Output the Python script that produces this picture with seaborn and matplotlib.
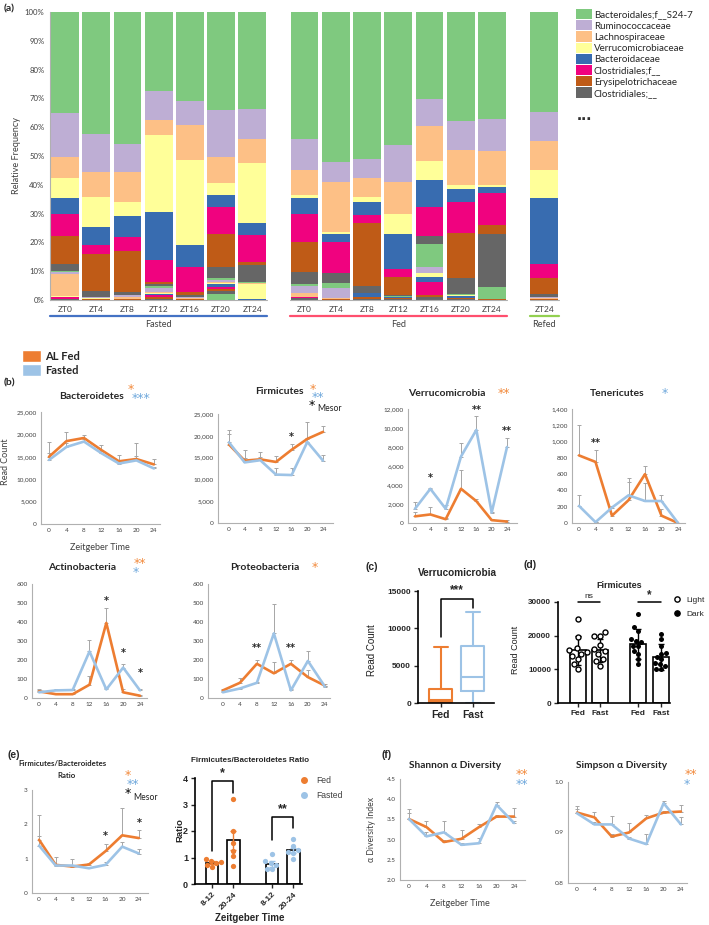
import warnings
warnings.filterwarnings("ignore")
import numpy as np
import pandas as pd
import matplotlib
matplotlib.use("Agg")
import matplotlib.pyplot as plt
import seaborn as sns
from matplotlib.patches import Patch
from matplotlib.lines import Line2D
from matplotlib.ticker import FuncFormatter

# ---------------- (a) relative frequency, % per sample ----------------
sample_labels = ["ZT0", "ZT4", "ZT8", "ZT12", "ZT16", "ZT20", "ZT24",
                 "ZT0", "ZT4", "ZT8", "ZT12", "ZT16", "ZT20", "ZT24", "ZT24"]
sample_groups = ["Fasted"] * 7 + ["Fed"] * 7 + ["Refed"]
taxa_names = ["Bacteroidales;f__S24-7", "Ruminococcaceae", "Lachnospiraceae",
              "Verrucomicrobiaceae", "Bacteroidaceae", "Clostridiales;f__",
              "Erysipelotrichaceae", "Clostridiales;__"]
#            fasted ZT0..ZT24                          fed ZT0..ZT24                             refed
s24_7   = [35.0, 42.5, 45.7, 27.4, 31.0, 33.9, 33.6, 44.1, 52.2, 51.1, 46.1, 30.3, 38.0, 37.0, 34.6]
rumino  = [15.3, 13.2, 9.7, 10.1, 8.3, 16.4, 10.4, 10.7, 7.0, 6.4, 12.9, 9.2, 10.0, 11.2, 10.1]
lachno  = [7.2, 8.7, 10.5, 5.3, 12.2, 9.1, 8.5, 8.9, 17.2, 6.9, 11.3, 12.2, 12.2, 12.0, 10.0]
verruco = [7.1, 10.3, 5.1, 26.5, 29.3, 4.2, 20.8, 0.9, 0.6, 1.6, 6.7, 6.8, 1.2, 0.5, 9.8]
bactero = [5.5, 6.1, 7.2, 16.9, 7.7, 4.0, 4.3, 5.4, 2.9, 4.6, 12.1, 9.1, 4.5, 2.1, 23.0]
clos_f  = [7.8, 3.3, 4.9, 7.5, 8.6, 9.6, 9.2, 9.8, 10.7, 2.6, 2.9, 10.3, 11.0, 11.3, 5.0]
erysip  = [9.5, 12.8, 14.1, 0.8, 1.2, 11.3, 1.1, 10.6, 0.0, 22.1, 6.2, 0.0, 15.5, 2.9, 5.4]
clos_   = [2.6, 2.0, 1.1, 0.6, 0.6, 4.0, 6.0, 4.0, 3.4, 2.1, 0.5, 2.5, 5.5, 18.6, 1.2]
# less abundant taxa (colour cycle repeats)
other_1 = [0.4, 0.1, 0.1, 0.6, 0.1, 0.5, 0.2, 0.8, 2.0, 0.0, 0.1, 8.3, 0.4, 4.1, 0.0]
other_2 = [0.6, 0.2, 0.6, 1.5, 0.3, 0.8, 0.1, 2.2, 3.2, 0.0, 0.1, 1.8, 0.1, 0.0, 0.1]
other_3 = [7.6, 0.2, 0.5, 0.4, 0.2, 0.3, 0.1, 1.4, 0.3, 0.0, 0.2, 0.0, 0.0, 0.0, 0.3]
other_4 = [0.3, 0.1, 0.1, 0.3, 0.1, 0.5, 5.3, 0.1, 0.3, 0.0, 0.0, 1.5, 0.1, 0.0, 0.0]
other_5 = [0.1, 0.1, 0.1, 0.5, 0.1, 0.9, 0.3, 0.1, 0.0, 1.6, 0.3, 1.9, 0.7, 0.0, 0.0]
other_6 = [0.5, 0.1, 0.1, 0.6, 0.1, 0.7, 0.0, 0.2, 0.0, 0.0, 0.0, 4.4, 0.1, 0.0, 0.3]
other_7 = [0.3, 0.2, 0.1, 0.6, 0.1, 0.8, 0.0, 0.2, 0.2, 0.6, 0.4, 0.6, 0.4, 0.2, 0.1]
other_8 = [0.2, 0.1, 0.1, 0.4, 0.1, 0.8, 0.1, 0.6, 0.0, 0.4, 0.2, 1.1, 0.3, 0.1, 0.1]
other_9 = [0.0, 0.0, 0.0, 0.0, 0.0, 2.2, 0.0, 0.0, 0.0, 0.0, 0.0, 0.0, 0.0, 0.0, 0.0]

# ---------------- (b), (e), (f) time courses ----------------
zt = [0, 4, 8, 12, 16, 20, 24]
bact_fed = [15000, 18500, 19200, 16500, 14000, 14500, 13300]
bact_fast = [14300, 17200, 18400, 15800, 13500, 14200, 12400]
bact_fed_err = [3300, 2000, 600, 1200, 1500, 3600, 1200]
bact_fast_err = [1500, 800, 500, 600, 700, 900, 400]

firm_fed = [18000, 14300, 14600, 14000, 16800, 19300, 20900]
firm_fast = [18500, 13900, 14400, 11100, 11000, 18600, 14300]
firm_fed_err = [3300, 2500, 1700, 1300, 1300, 3900, 1400]
firm_fast_err = [1900, 900, 800, 1500, 1600, 1000, 1200]

verr_fed = [700, 900, 400, 3600, 2300, 300, 150]
verr_fast = [1500, 3600, 1500, 7000, 9800, 1100, 8000]
verr_fed_err = [500, 800, 100, 2000, 200, 100, 150]
verr_fast_err = [700, 100, 400, 1400, 1500, 100, 1000]

ten_fed = [830, 750, 90, 280, 600, 90, 0]
ten_fast = [210, 10, 190, 340, 270, 270, 0]
ten_fed_err = [370, 150, 20, 220, 100, 80, 0]
ten_fast_err = [130, 0, 20, 210, 220, 70, 0]

act_fed = [35, 20, 20, 70, 395, 30, 12]
act_fast = [30, 40, 42, 245, 45, 160, 40]
act_fed_err = [10, 5, 5, 45, 80, 20, 5]
act_fast_err = [12, 10, 5, 60, 10, 20, 5]

prot_fed = [40, 80, 180, 130, 180, 110, 65]
prot_fast = [30, 50, 80, 340, 40, 195, 60]
prot_fed_err = [10, 25, 20, 60, 20, 35, 10]
prot_fast_err = [5, 5, 5, 155, 5, 55, 5]

fb_fed = [1.55, 0.82, 0.77, 0.83, 1.22, 1.68, 1.60]
fb_fast = [1.38, 0.80, 0.80, 0.72, 0.82, 1.35, 1.15]
fb_fed_err = [0.10, 0.23, 0.05, 0.03, 0.20, 0.80, 0.23]
fb_fast_err = [0.90, 0.05, 0.18, 0.05, 0.08, 0.15, 0.12]

sh_fed = [3.51, 3.31, 2.94, 3.02, 3.31, 3.57, 3.57]
sh_fast = [3.51, 3.08, 3.18, 2.87, 2.91, 3.86, 3.41]
sh_fed_err = [0.24, 0.16, 0.05, 0.21, 0.07, 0.05, 0.21]
sh_fast_err = [0.15, 0.10, 0.29, 0.05, 0.12, 0.08, 0.05]

si_fed = [0.9395, 0.930, 0.892, 0.900, 0.928, 0.9395, 0.9415]
si_fast = [0.938, 0.916, 0.916, 0.888, 0.877, 0.958, 0.916]
si_fed_err = [0.0135, 0.011, 0.005, 0.018, 0.007, 0.003, 0.0135]
si_fast_err = [0.008, 0.004, 0.017, 0.003, 0.021, 0.005, 0.014]

# ---------------- (c) Verrucomicrobia box stats ----------------
box_names = ["Fed", "Fast"]
box_whislo = [0, 50]
box_q1 = [200, 1650]
box_med = [450, 3530]
box_q3 = [1900, 7680]
box_whishi = [7550, 12150]

# ---------------- (d) Firmicutes light/dark ----------------
d_labels = ["Fed", "Fast", "Fed", "Fast"]
d_means = [15600, 15600, 17600, 13700]
d_sd = [4400, 3500, 4500, 3900]
firm_light_fed = [25000, 19500, 16200, 15600, 15200, 14700, 14000, 13000, 11500, 10000]
firm_light_fast = [21000, 20000, 19800, 17200, 16000, 15300, 14500, 13000, 12500, 11000]
firm_dark_fed = [26500, 22500, 21500, 19000, 18500, 18000, 17000, 16800, 15500, 14500, 13000, 11500]
firm_dark_fast = [20500, 19000, 17000, 15000, 14500, 13800, 13000, 12000, 11500, 11000, 10200, 10000]

# ---------------- (e) right: ratio bars ----------------
e_labels = ["8-12", "20-24", "8-12", "20-24"]
e_means = [0.80, 1.65, 0.76, 1.27]
e_err = [0.05, 0.36, 0.10, 0.10]
ratio_fed_8_12 = [0.95, 0.88, 0.82, 0.78, 0.72, 0.65]
ratio_fed_20_24 = [3.22, 2.00, 1.55, 1.25, 1.05, 0.68]
ratio_fast_8_12 = [1.15, 0.85, 0.78, 0.70, 0.58, 0.55]
ratio_fast_20_24 = [1.68, 1.45, 1.30, 1.22, 1.18, 0.95]

# ---------------- style ----------------
sns.set_style("white")
plt.rcParams['font.family'] = ['Lato', 'DejaVu Sans']
ARIAL = ['Liberation Sans', 'DejaVu Sans']
ORANGE = '#ed7d31'
LBLUE = '#9dc3e6'
STAR_O = '#f28a3c'
STAR_B = '#6fa8dc'
ERR = '#a6a6a6'
AXC = '#b0b0b0'

W, H = 709, 925
fig = plt.figure(figsize=(W / 100, H / 100), dpi=100)


def add_ax(x0, y0, x1, y1):
    return fig.add_axes([x0 / W, 1 - y1 / H, (x1 - x0) / W, (y1 - y0) / H])


def ftext(x, y, s, **kw):
    kw.setdefault('ha', 'left')
    kw.setdefault('va', 'center')
    fig.text(x / W, 1 - y / H, s, **kw)


def star(x, y, s, color, size=9):
    ftext(x, y + 2.5, s, ha='center', color=color, fontsize=size, family='DejaVu Sans')


# ================= (a) =================
accent = sns.color_palette("Accent", 8)
stack = [s24_7, rumino, lachno, verruco, bactero, clos_f, erysip, clos_,
         other_1, other_2, other_3, other_4, other_5, other_6, other_7, other_8, other_9]
stack_colors = list(accent) * 2 + [accent[0]]
xpos = np.concatenate([np.arange(7), 7.67 + np.arange(7), [15.35]])

ax = add_ax(50, 12, 560, 300)
bottom = np.zeros(len(xpos))
for vals, col in reversed(list(zip(stack, stack_colors))):
    ax.bar(xpos, vals, bottom=bottom, width=0.89, color=col, linewidth=0)
    bottom += np.array(vals)
ax.set_xlim(-0.48, 15.85)
ax.set_ylim(0, 100)
ax.set_yticks(range(0, 101, 10))
ax.yaxis.set_major_formatter(FuncFormatter(lambda v, p: f"{v:.0f}%"))
ax.set_xticks(xpos)
ax.set_xticklabels(sample_labels)
for s in ['top', 'right', 'bottom']:
    ax.spines[s].set_visible(False)
ax.spines['left'].set_color(AXC)
ax.spines['left'].set_linewidth(0.8)
ax.tick_params(axis='y', length=2.5, color=AXC, labelsize=5.6, labelcolor='#404040', pad=1.5)
ax.tick_params(axis='x', length=2, color=AXC, labelsize=6, labelcolor='#404040', pad=2)
ax.set_ylabel("Relative Frequency", fontsize=6.6, color='#404040', labelpad=3)
grp_colors = {"Fasted": '#4472c4', "Fed": '#ff4f6e', "Refed": '#92d050'}
for g in ["Fasted", "Fed", "Refed"]:
    idx = [i for i, gg in enumerate(sample_groups) if gg == g]
    lo, hi = xpos[idx[0]] - 0.47, xpos[idx[-1]] + 0.47
    ax.plot([lo, hi], [0, 0], color=AXC, lw=0.8, clip_on=False)
    ax.plot([lo, hi], [-5.6, -5.6], color=grp_colors[g], lw=1.6, clip_on=False)
    ax.text((lo + hi) / 2, -8.6, g, ha='center', va='center', fontsize=6.6, color='#404040')
leg_handles = [Patch(facecolor=c, edgecolor='none') for c in accent]
ax.legend(leg_handles, taxa_names, loc='upper left', bbox_to_anchor=(576 / W, 1 - 9 / H),
          bbox_transform=fig.transFigure, frameon=False, fontsize=7, handlelength=1.65,
          handleheight=1.25, handletextpad=0.2, labelspacing=0.08, borderpad=0, borderaxespad=0)
ftext(577, 116, "...", fontsize=13, fontweight='bold', color='#303030', family=ARIAL)
ftext(4, 9, "(a)", fontsize=7.5, fontweight='bold')

# ================= (b) legend =================
fig.legend([Patch(facecolor=ORANGE), Patch(facecolor=LBLUE)], ['AL Fed', 'Fasted'],
           loc='upper left', bbox_to_anchor=(22 / W, 1 - 350 / H), frameon=False,
           prop={'weight': 'bold', 'size': 8}, handlelength=1.75, handleheight=1.25,
           handletextpad=0.35, labelspacing=0.2, borderpad=0, borderaxespad=0)
ftext(4, 383, "(b)", fontsize=7.5, fontweight='bold')


def excel_panel(box, xlim, fed, fast, fed_err, fast_err, ylim, yticks, fmt, sig):
    a = add_ax(*box)
    a.errorbar(zt, fed, yerr=[np.zeros(7), fed_err], fmt='none', ecolor=ERR,
               elinewidth=0.7, capsize=1.4, capthick=0.7, zorder=1)
    a.errorbar(zt, fast, yerr=[np.zeros(7), fast_err], fmt='none', ecolor=ERR,
               elinewidth=0.7, capsize=1.4, capthick=0.7, zorder=1)
    df = pd.DataFrame({'ZT': zt + zt, 'value': list(fed) + list(fast),
                       'group': ['AL Fed'] * 7 + ['Fasted'] * 7})
    sns.lineplot(data=df, x='ZT', y='value', hue='group', hue_order=['AL Fed', 'Fasted'],
                 palette=[ORANGE, LBLUE], linewidth=1.9, legend=False, ax=a, zorder=2)
    a.set_xlim(xlim)
    a.set_ylim(ylim)
    a.set_xticks(zt)
    a.set_yticks(yticks)
    a.yaxis.set_major_formatter(FuncFormatter(fmt))
    a.tick_params(length=0, labelsize=4.6, labelcolor='#404040', pad=3)
    for s in ['top', 'right']:
        a.spines[s].set_visible(False)
    for s in ['left', 'bottom']:
        a.spines[s].set_color(AXC)
        a.spines[s].set_linewidth(0.8)
    a.set_xlabel('')
    a.set_ylabel('')
    for x, y, s in sig:
        a.text(x, y, s, ha='center', va='center', fontsize=7, fontweight='bold',
               family='DejaVu Sans', clip_on=False)
    return a


thou = lambda v, p: f"{v:,.0f}"
one = lambda v, p: f"{v:.1f}"
intf = lambda v, p: f"{v:.0f}"

excel_panel((41, 412, 160, 524), (-1.83, 25.4), bact_fed, bact_fast, bact_fed_err, bact_fast_err,
            (0, 25000), range(0, 25001, 5000), thou, [])
ftext(91, 396, "Bacteroidetes", ha='center', fontsize=7.5, fontweight='bold')
star(131, 387, "*", STAR_O)
star(141, 396, "***", STAR_B)
ftext(6, 462, "Read Count", ha='center', rotation=90, fontsize=6.5, color='#404040')
ftext(100, 547, "Zeitgeber Time", ha='center', fontsize=6.5, color='#404040')

excel_panel((218, 414, 333, 523), (-2.8, 26.55), firm_fed, firm_fast, firm_fed_err, firm_fast_err,
            (0, 25000), range(0, 25001, 5000), thou, [(16, 19700, "*")])
ftext(279, 391, "Firmicutes", ha='center', fontsize=7.5, fontweight='bold')
star(313, 387, "*", STAR_O)
star(318, 395, "**", STAR_B)
star(312, 403, "*", 'black')
ftext(317, 409, "Mesor", fontsize=6.2, color='#202020')

excel_panel((408, 409, 517, 523), (-1.83, 26.6), verr_fed, verr_fast, verr_fed_err, verr_fast_err,
            (0, 12000), range(0, 12001, 2000), thou, [(4, 4700, "*"), (16, 11900, "**"), (24, 9650, "**")])
ftext(447, 393, "Verrucomicrobia", ha='center', fontsize=7.5, fontweight='bold')
star(504, 391, "**", STAR_O)

excel_panel((572, 409, 685, 523), (-1.7, 25.7), ten_fed, ten_fast, ten_fed_err, ten_fast_err,
            (0, 1400), range(0, 1401, 200), thou, [(4, 980, "**")])
ftext(617, 393, "Tenericutes", ha='center', fontsize=7.5, fontweight='bold')
star(665, 391, "*", STAR_B)

excel_panel((32, 584, 147, 698), (-1.67, 25.67), act_fed, act_fast, act_fed_err, act_fast_err,
            (0, 600), range(0, 601, 100), intf, [(16, 512, "*"), (20, 238, "*"), (24, 129, "*")])
ftext(82, 568, "Actinobacteria", ha='center', fontsize=7.5, fontweight='bold')
star(140, 561, "**", STAR_O)
star(136, 570, "*", STAR_B)

excel_panel((208, 584, 330, 698), (-3.5, 25.2), prot_fed, prot_fast, prot_fed_err, prot_fast_err,
            (0, 600), range(0, 601, 100), intf, [(8, 265, "**"), (16, 265, "**")])
ftext(265, 568, "Proteobacteria", ha='center', fontsize=7.5, fontweight='bold')
star(315, 565, "*", STAR_O)

# ================= (c) =================
ax = add_ax(418, 591, 494, 703)
stats = []
for i, n in enumerate(box_names):
    stats.append({'label': n, 'whislo': box_whislo[i], 'q1': box_q1[i], 'med': box_med[i],
                  'q3': box_q3[i], 'whishi': box_whishi[i]})
for i, col in enumerate([ORANGE, LBLUE]):
    ax.bxp([stats[i]], positions=[i], widths=0.72, showfliers=False,
           boxprops=dict(color=col, lw=1.5), medianprops=dict(color=col, lw=1.5),
           whiskerprops=dict(color=col, lw=1.5), capprops=dict(color=col, lw=1.5),
           capwidths=0.45)
ax.set_xlim(-0.72, 1.66)
ax.set_ylim(0, 15000)
ax.set_yticks([0, 5000, 10000, 15000])
ax.set_xticks([0, 1])
ax.set_xticklabels(box_names, fontsize=7.5, fontweight='bold', family=ARIAL)
for lab in ax.get_yticklabels():
    lab.set_fontweight('bold')
    lab.set_family(ARIAL)
ax.tick_params(axis='y', labelsize=6, length=3, width=1, direction='out', left=True, pad=2)
ax.tick_params(axis='x', length=3, width=1, direction='out', bottom=True, pad=2)
for s in ['top', 'right']:
    ax.spines[s].set_visible(False)
for s in ['left', 'bottom']:
    ax.spines[s].set_color('black')
    ax.spines[s].set_linewidth(1.2)
ax.plot([0, 0, 1, 1], [8800, 13930, 13930, 12700], color='black', lw=1.1, clip_on=False)
ax.text(0.5, 14300, "***", ha='center', va='bottom', fontsize=8.5, fontweight='bold', family=ARIAL)
ftext(457, 573, "Verrucomicrobia", ha='center', fontsize=7.2, fontweight='bold', family=ARIAL)
ftext(372, 650, "Read Count", ha='center', rotation=90, fontsize=7, family=ARIAL, color='#202020')
ftext(365, 567, "(c)", fontsize=7.5, fontweight='bold', family=ARIAL)

# ================= (d) =================
ax = add_ax(558, 602, 670, 703)
dpos = [0, 1, 2.7, 3.75]
ax.bar(dpos, d_means, width=0.72, color='white', edgecolor='black', linewidth=1.2, zorder=1)
ax.errorbar(dpos, d_means, yerr=d_sd, fmt='none', ecolor='black', elinewidth=1, capsize=2.5,
            capthick=1, zorder=2)
light = pd.DataFrame({'pos': [dpos[0]] * len(firm_light_fed) + [dpos[1]] * len(firm_light_fast),
                      'val': firm_light_fed + firm_light_fast})
dark = pd.DataFrame({'pos': [dpos[2]] * len(firm_dark_fed) + [dpos[3]] * len(firm_dark_fast),
                     'val': firm_dark_fed + firm_dark_fast})
sns.swarmplot(data=light, x='pos', y='val', native_scale=True, color='white', edgecolor='black',
              linewidth=1, size=3.6, ax=ax, zorder=3)
sns.swarmplot(data=dark, x='pos', y='val', native_scale=True, color='black', size=3.6, ax=ax, zorder=3)
ax.set_xlim(-0.91, 4.16)
ax.set_ylim(0, 30000)
ax.set_yticks([0, 10000, 20000, 30000])
ax.set_xticks(dpos)
ax.set_xticklabels(d_labels, fontsize=6, fontweight='bold', family=ARIAL)
for lab in ax.get_yticklabels():
    lab.set_fontweight('bold')
    lab.set_family(ARIAL)
ax.tick_params(axis='y', labelsize=5.8, length=3, width=1, direction='out', left=True, pad=2)
ax.tick_params(axis='x', length=3, width=1, direction='out', bottom=True, pad=2)
ax.set_xlabel('')
ax.set_ylabel('')
for s in ['top', 'right']:
    ax.spines[s].set_visible(False)
for s in ['left', 'bottom']:
    ax.spines[s].set_color('black')
    ax.spines[s].set_linewidth(1.2)
ax.plot([dpos[0], dpos[1]], [29900, 29900], color='black', lw=1.1, clip_on=False)
ax.plot([dpos[2], dpos[3]], [29900, 29900], color='black', lw=1.1, clip_on=False)
ax.text((dpos[0] + dpos[1]) / 2, 30600, "ns", ha='center', va='bottom', fontsize=6, family=ARIAL)
ax.text((dpos[2] + dpos[3]) / 2, 30300, "*", ha='center', va='bottom', fontsize=8.5,
        fontweight='bold', family=ARIAL)
ax.legend([Line2D([], [], ls='', marker='o', mfc='white', mec='black', mew=1, ms=3.8),
           Line2D([], [], ls='', marker='o', mfc='black', mec='black', ms=3.8)],
          ['Light', 'Dark'], loc='upper left', bbox_to_anchor=(673 / W, 1 - 596 / H),
          bbox_transform=fig.transFigure, frameon=False, prop={'family': ARIAL, 'size': 6},
          handlelength=1, handletextpad=0.6, labelspacing=0.7, borderpad=0, borderaxespad=0)
ftext(619, 585, "Firmicutes", ha='center', fontsize=6.5, fontweight='bold', family=ARIAL)
ftext(515, 650, "Read Count", ha='center', rotation=90, fontsize=6.5, family=ARIAL, color='#202020')
ftext(523, 565, "(d)", fontsize=7.5, fontweight='bold', family=ARIAL)

# ================= (e) =================
ftext(8, 755, "(e)", fontsize=7.5, fontweight='bold', family=ARIAL)
excel_panel((32, 790, 148, 893), (-1.7, 26.2), fb_fed, fb_fast, fb_fed_err, fb_fast_err,
            (0, 3), [0, 1, 2, 3], intf, [(16, 1.67, "*"), (24, 2.03, "*")])
ftext(62, 764, "Firmicutes/Bacteroidetes", ha='center', fontsize=5.6, fontweight='bold')
ftext(66, 775, "Ratio", ha='center', fontsize=5.6, fontweight='bold')
star(128, 773, "*", STAR_O)
star(133, 782, "**", STAR_B)
star(128, 791, "*", 'black')
ftext(133, 797, "Mesor", fontsize=6.2, color='#202020')

ax = add_ax(195, 778, 302, 884)
epos = [0, 1, 2.8, 3.8]
ecols = [ORANGE, ORANGE, LBLUE, LBLUE]
ax.bar(epos, e_means, width=0.6, color='white', edgecolor='black', linewidth=1.2, zorder=1)
for p, m, e, c in zip(epos, e_means, e_err, ecols):
    ax.errorbar([p], [m], yerr=[e], fmt='none', ecolor=c, elinewidth=1, capsize=2.5, capthick=1, zorder=2)
fed_pts = pd.DataFrame({'pos': [epos[0]] * 6 + [epos[1]] * 6, 'val': ratio_fed_8_12 + ratio_fed_20_24})
fast_pts = pd.DataFrame({'pos': [epos[2]] * 6 + [epos[3]] * 6, 'val': ratio_fast_8_12 + ratio_fast_20_24})
sns.swarmplot(data=fed_pts, x='pos', y='val', native_scale=True, color=ORANGE, size=3.8, ax=ax, zorder=3)
sns.swarmplot(data=fast_pts, x='pos', y='val', native_scale=True, color=LBLUE, size=3.8, ax=ax, zorder=3)
ax.set_xlim(-0.79, 4.2)
ax.set_ylim(0, 4)
ax.set_yticks([0, 1, 2, 3, 4])
ax.set_xticks(epos)
ax.set_xticklabels(e_labels, rotation=45, ha='right', rotation_mode='anchor', fontsize=6,
                   fontweight='bold', family=ARIAL)
for lab in ax.get_yticklabels():
    lab.set_fontweight('bold')
    lab.set_family(ARIAL)
ax.tick_params(axis='y', labelsize=6.5, length=3, width=1, direction='out', left=True, pad=2)
ax.tick_params(axis='x', length=3, width=1, direction='out', bottom=True, pad=2)
ax.set_xlabel('')
ax.set_ylabel('')
for s in ['top', 'right']:
    ax.spines[s].set_visible(False)
for s in ['left', 'bottom']:
    ax.spines[s].set_color('black')
    ax.spines[s].set_linewidth(1.2)
ax.plot([epos[0], epos[0], epos[1], epos[1]], [1.25, 3.9, 3.9, 3.45], color='black', lw=1.1, clip_on=False)
ax.text((epos[0] + epos[1]) / 2, 3.95, "*", ha='center', va='bottom', fontsize=9, fontweight='bold', family=ARIAL)
ax.plot([epos[2], epos[2], epos[3], epos[3]], [1.66, 2.54, 2.54, 2.1], color='black', lw=1.1, clip_on=False)
ax.text((epos[2] + epos[3]) / 2, 2.58, "**", ha='center', va='bottom', fontsize=9, fontweight='bold', family=ARIAL)
ax.legend([Line2D([], [], ls='', marker='o', mfc=ORANGE, mec=ORANGE, ms=4),
           Line2D([], [], ls='', marker='o', mfc=LBLUE, mec=LBLUE, ms=4)],
          ['Fed', 'Fasted'], loc='upper left', bbox_to_anchor=(300 / W, 1 - 776 / H),
          bbox_transform=fig.transFigure, frameon=False, prop={'family': ARIAL, 'size': 6.2},
          handlelength=1, handletextpad=0.9, labelspacing=0.75, borderpad=0, borderaxespad=0)
for t in ax.get_legend().get_texts():
    t.set_color('#404040')
ftext(250, 760, "Firmicutes/Bacteroidetes Ratio", ha='center', fontsize=5.8, fontweight='bold', family=ARIAL)
ftext(180, 830, "Ratio", ha='center', rotation=90, fontsize=6.8, fontweight='bold', family=ARIAL)
ftext(250, 918, "Zeitgeber Time", ha='center', fontsize=7, fontweight='bold', family=ARIAL)

# ================= (f) =================
ftext(381, 755, "(f)", fontsize=7.5, fontweight='bold', family=ARIAL)
excel_panel((400, 779, 525, 880), (-2.05, 26.5), sh_fed, sh_fast, sh_fed_err, sh_fast_err,
            (2.0, 4.5), [2.0, 2.5, 3.0, 3.5, 4.0, 4.5], one, [])
ftext(455, 765, "Shannon α Diversity", ha='center', fontsize=7.3, fontweight='bold')
star(522, 772, "**", STAR_O)
star(522, 782, "**", STAR_B)
ftext(371, 830, "α Diversity Index", ha='center', rotation=90, fontsize=6.2, color='#404040')
ftext(460, 904, "Zeitgeber Time", ha='center', fontsize=6.5, color='#404040')

excel_panel((568, 782, 687, 883), (-2.1, 25.4), si_fed, si_fast, si_fed_err, si_fast_err,
            (0.8, 1.0), [0.8, 0.9, 1.0], one, [])
ftext(622, 765, "Simpson α Diversity", ha='center', fontsize=7.3, fontweight='bold')
star(691, 772, "**", STAR_O)
star(687, 782, "*", STAR_B)

fig.savefig("out.png", dpi=100)
